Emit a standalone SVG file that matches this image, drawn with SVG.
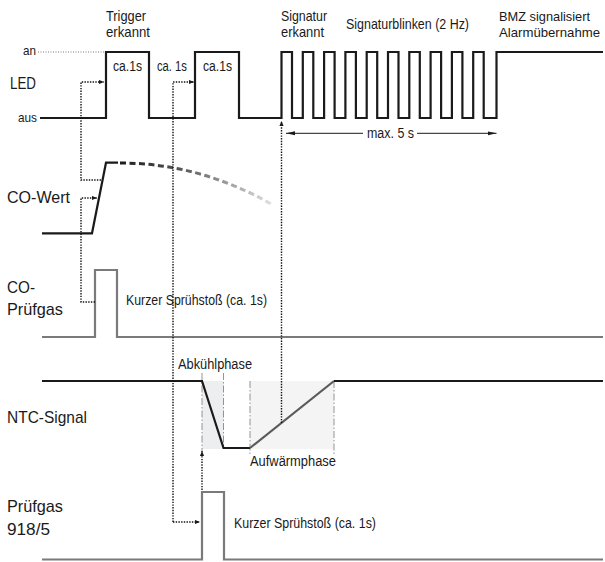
<svg xmlns="http://www.w3.org/2000/svg" width="605" height="562" viewBox="0 0 605 562">
<style>
text { font-family: "Liberation Sans", Arial, sans-serif; fill: #1a1a1a; }
.lbl { font-size: 17px; }
.top { font-size: 15px; }
.topr { font-size: 13.5px; }
.sm { font-size: 14px; }
.tiny { font-size: 13px; }
.blk { fill: none; stroke: #1a1a1a; stroke-width: 2.2; }
.gry { fill: none; stroke: #7a7a7a; stroke-width: 2.2; }
.dot { fill: none; stroke: #111; stroke-width: 1.4; stroke-dasharray: 1.4 1.3; }
.thin { fill: none; stroke: #555; stroke-width: 0.8; stroke-dasharray: 1 1.5; }
.dd { fill: none; stroke: #7a7a7a; stroke-width: 0.8; stroke-dasharray: 7 2 1.5 2; }
.sol { fill: none; stroke: #1a1a1a; stroke-width: 1; }
</style>
<defs>
<marker id="ah" viewBox="0 0 6 6" refX="6" refY="3" markerWidth="5" markerHeight="5" markerUnits="userSpaceOnUse" orient="auto"><path d="M0,0.5 L6,3 L0,5.5 Z" fill="#1a1a1a"/></marker>
<marker id="al" viewBox="0 0 9 6" refX="9" refY="3" markerWidth="9" markerHeight="6" markerUnits="userSpaceOnUse" orient="auto"><path d="M0,1 L9,3 L0,5 Z" fill="#1a1a1a"/></marker>
<linearGradient id="fade" gradientUnits="userSpaceOnUse" x1="118" y1="0" x2="273" y2="0"><stop offset="0" stop-color="#1a1a1a"/><stop offset="0.4" stop-color="#555"/><stop offset="1" stop-color="#e2e2e2"/></linearGradient>
</defs>

<g id="headers">
<text class="top" x="106" y="21" textLength="40" lengthAdjust="spacingAndGlyphs">Trigger</text>
<text class="top" x="106" y="37" textLength="44" lengthAdjust="spacingAndGlyphs">erkannt</text>
<text class="top" x="281" y="21" textLength="46" lengthAdjust="spacingAndGlyphs">Signatur</text>
<text class="top" x="281" y="37" textLength="43" lengthAdjust="spacingAndGlyphs">erkannt</text>
<text class="top" x="346" y="29" textLength="123" lengthAdjust="spacingAndGlyphs">Signaturblinken (2 Hz)</text>
<text class="topr" x="499" y="21" textLength="91" lengthAdjust="spacingAndGlyphs">BMZ signalisiert</text>
<text class="topr" x="499" y="37" textLength="101" lengthAdjust="spacingAndGlyphs">Alarmübernahme</text>
</g>

<g id="led">
<text class="lbl" x="10" y="89" textLength="26" lengthAdjust="spacingAndGlyphs">LED</text>
<text class="tiny" x="23" y="55" textLength="13" lengthAdjust="spacingAndGlyphs">an</text>
<text class="tiny" x="18" y="122" textLength="19" lengthAdjust="spacingAndGlyphs">aus</text>
<path class="thin" d="M38,52 H105"/>
<path class="blk" d="M40,118 H106 V52 H149 V118 H195 V52 H239 V118 H281.5 V52 H292 V118 H302.8 V52 H313.3 V118 H324.1 V52 H334.6 V118 H345.4 V52 H355.9 V118 H366.7 V52 H377.2 V118 H388 V52 H398.5 V118 H409.3 V52 H419.8 V118 H430.6 V52 H441.1 V118 H451.9 V52 H462.4 V118 H473.2 V52 H483.7 V118 H496.5 V52 H603"/>
<text class="sm" x="113" y="71" textLength="29" lengthAdjust="spacingAndGlyphs">ca.1s</text>
<text class="sm" x="157" y="71" textLength="30" lengthAdjust="spacingAndGlyphs">ca. 1s</text>
<text class="sm" x="203" y="71" textLength="29" lengthAdjust="spacingAndGlyphs">ca.1s</text>
<path class="sol" d="M363,133.3 H286" marker-end="url(#al)"/>
<path class="sol" d="M417,133.3 H496.5" marker-end="url(#al)"/>
<text class="sm" x="367" y="138" textLength="47" lengthAdjust="spacingAndGlyphs">max. 5 s</text>
</g>

<g id="co-wert">
<text class="lbl" x="7" y="203" textLength="63" lengthAdjust="spacingAndGlyphs">CO-Wert</text>
<path class="blk" d="M42,233.3 H92 L106,162.7 H118"/>
<path d="M120,163 Q200,163 273,205" fill="none" stroke="url(#fade)" stroke-width="3" stroke-dasharray="6 3.5"/>
</g>

<g id="co-pruefgas">
<text class="lbl" x="7" y="293" textLength="28" lengthAdjust="spacingAndGlyphs">CO-</text>
<text class="lbl" x="7" y="315" textLength="56" lengthAdjust="spacingAndGlyphs">Prüfgas</text>
<path class="gry" d="M42,337 H95 V270 H117 V337 H603"/>
<text class="sm" x="126" y="305" textLength="141" lengthAdjust="spacingAndGlyphs">Kurzer Sprühstoß (ca. 1s)</text>
</g>

<g id="ntc">
<rect x="202" y="381" width="21.5" height="68" fill="#eceef0"/>
<rect x="250" y="381" width="84" height="68" fill="#f4f4f4"/>
<path class="dd" d="M202,373 V451 M223.5,373 V449 M250,381 V456 M334,381 V456"/>
<text class="lbl" x="7" y="423" textLength="80" lengthAdjust="spacingAndGlyphs">NTC-Signal</text>
<path class="blk" d="M42,381 H202 L223.5,448 H250"/>
<path class="blk" d="M250,448 L334,381" style="stroke:#5a5a5a"/>
<path class="blk" d="M334,381 H603"/>
<text class="sm" x="178" y="369" textLength="74" lengthAdjust="spacingAndGlyphs">Abkühlphase</text>
<text class="sm" x="250" y="466" textLength="86" lengthAdjust="spacingAndGlyphs">Aufwärmphase</text>
</g>

<g id="pruefgas-918">
<text class="lbl" x="7" y="512" textLength="56" lengthAdjust="spacingAndGlyphs">Prüfgas</text>
<text class="lbl" x="7" y="535" textLength="43" lengthAdjust="spacingAndGlyphs">918/5</text>
<path class="gry" d="M42,559.5 H202 V492 H224 V559.5 H603"/>
<text class="sm" x="234" y="528" textLength="142" lengthAdjust="spacingAndGlyphs">Kurzer Sprühstoß (ca. 1s)</text>
</g>

<g id="connectors">
<path class="dot" d="M101,180 H81 V82 H104" marker-end="url(#ah)"/>
<path class="dot" d="M95,302 H81 V198 H97" marker-end="url(#ah)"/>
<path class="dot" d="M173,522 V82 H194" marker-end="url(#ah)"/>
<path class="dot" d="M173,522 H200" marker-end="url(#ah)"/>
<path class="dot" d="M202,490 V451" marker-end="url(#ah)"/>
<path class="dot" d="M281.5,423 V121" marker-end="url(#ah)"/>
</g>
</svg>
